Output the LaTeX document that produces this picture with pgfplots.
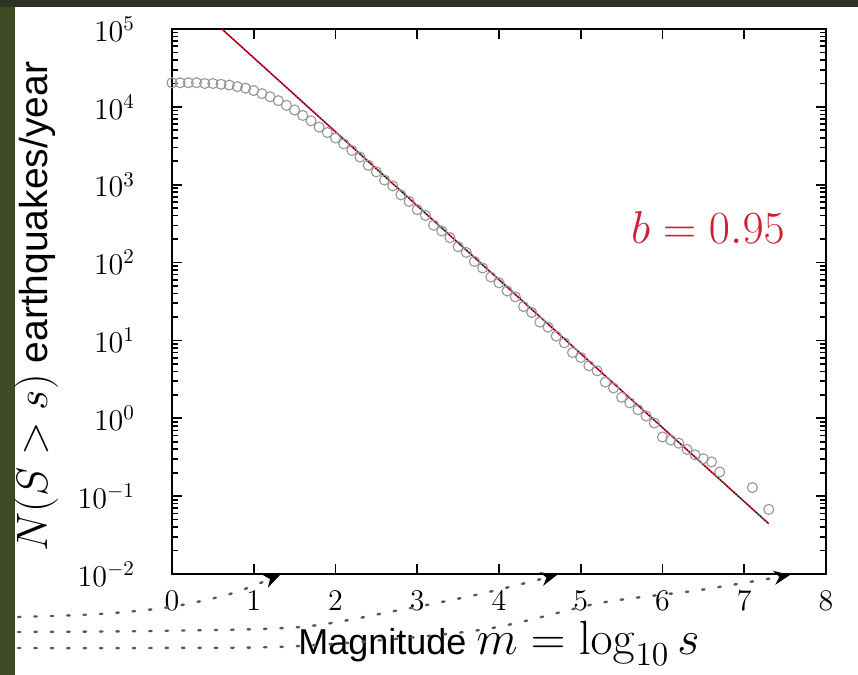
\RequirePackage{fix-cm}
\documentclass[border=0pt]{standalone}
\usepackage{pgfplots}
\pgfplotsset{compat=1.18}
\usepackage{pgfplotstable}
\usepackage[no-math]{fontspec}
\setmainfont{Liberation Sans}
\usetikzlibrary{arrows.meta}

\definecolor{slidetop}{RGB}{47,49,35}
\definecolor{slideleft}{RGB}{62,74,38}
\definecolor{fitred}{RGB}{205,30,50}
\definecolor{datagray}{RGB}{150,150,150}

% cumulative counts N(S>s) per year vs magnitude
\pgfplotstableread{
m N
0.0 20400
0.1 20400
0.2 20400
0.3 20400
0.4 19950
0.5 19950
0.6 19500
0.7 19050
0.8 18200
0.9 17380
1.0 16220
1.1 14790
1.2 13490
1.3 12020
1.4 10470
1.5 9120
1.6 7760
1.7 6610
1.8 5500
1.9 4680
2.0 3981
2.1 3350
2.2 2754
2.3 2265
2.4 1778
2.5 1462
2.6 1148
2.7 966
2.8 741
2.9 610
3.0 479
3.1 403
3.2 302
3.3 254
3.4 209
3.5 160
3.6 135
3.7 103.5
3.8 85.1
3.9 65.3
4.0 55.0
4.1 43.2
4.2 36.3
4.3 27.2
4.4 22.9
4.5 17.2
4.6 14.8
4.7 11.35
4.8 9.33
4.9 7.00
5.0 6.03
5.1 4.73
5.2 4.07
5.3 2.92
5.4 2.45
5.5 1.86
5.6 1.58
5.7 1.29
5.8 1.07
5.9 0.871
6.0 0.575
6.1 0.525
6.2 0.479
6.3 0.398
6.4 0.339
6.5 0.302
6.6 0.275
6.7 0.204
7.1 0.129
7.3 0.0676
}\quakes

\begin{document}
\begin{tikzpicture}
% slide background (pixel units, origin at top left of the slide)
\begin{scope}[x=0.5pt,y=-0.5pt,shift={(-172,-574)}]
  \fill[white] (0,0) rectangle (858,675);
  \fill[slideleft] (0,0) rectangle (15,675);
  \fill[slidetop] (0,0) rectangle (858,7);
\end{scope}

\begin{axis}[
    at={(0,0)}, anchor=south west,
    scale only axis,
    width=327pt, height=272.5pt,
    ymode=log,
    xmin=0, xmax=8,
    ymin=1e-2, ymax=1e5,
    xtick={0,1,...,8},
    ytick={1e-2,1e-1,1,10,100,1000,1e4,1e5},
    tick pos=both,
    tick align=inside,
    major tick length=5pt,
    minor tick length=3pt,
    axis line style={line width=0.9pt},
    tick style={black, line width=0.8pt},
    tick label style={font=\fontsize{15}{17}\selectfont},
    yticklabel style={xshift=-15pt},
    xticklabel style={yshift=-5pt},
    clip=false,
    xlabel={Magnitude {\fontsize{24}{26}\selectfont$m=\log_{10} s$}},
    ylabel={{\fontsize{22}{24}\selectfont$N(S>s)$} earthquakes/year},
    xlabel style={at={(axis description cs:0.5,-0.147)}, anchor=base,
        font=\fontsize{18}{20}\selectfont},
    ylabel style={at={(axis description cs:-0.191,0.028)}, anchor=base west,
        font=\fontsize{19.5}{22}\selectfont},
]
    % observed counts
    \addplot[only marks, mark=o, mark size=2.5pt, datagray,
        mark options={line width=0.55pt}] table {\quakes};
    % Gutenberg-Richter fit
    \addplot[fitred, line width=0.8pt] coordinates {(0.61,1e5) (7.3,0.0442)};
    \addplot[black, densely dotted, line width=0.5pt] coordinates {(0.61,1e5) (7.3,0.0442)};

    \node[fitred, font=\fontsize{23}{25}\selectfont] at (axis cs:6.556,286) {$b=0.95$};
\end{axis}

% decorative dotted arrows of the slide
\begin{scope}[x=0.5pt,y=-0.5pt,shift={(-172,-574)},
    every path/.style={draw=black!65, line width=1.2pt,
        dash pattern=on 1.2pt off 7pt, line cap=round}]
  \draw[-{Stealth[length=8pt,width=7pt,black]}] plot[smooth] coordinates
    {(18,617) (100,614) (170,607) (230,594) (280,575)};
  \draw[-{Stealth[length=8pt,width=7pt,black]}] plot[smooth] coordinates
    {(18,632) (150,631) (300,627) (400,610) (480,594) (557,575)};
  \draw[-{Stealth[length=8pt,width=7pt,black]}] plot[smooth] coordinates
    {(18,648) (150,648) (300,646) (480,630) (600,603) (700,590) (790,575)};
\end{scope}

\pgfresetboundingbox
\path (-86pt,-50.5pt) rectangle (343pt,287pt);
\end{tikzpicture}
\end{document}
